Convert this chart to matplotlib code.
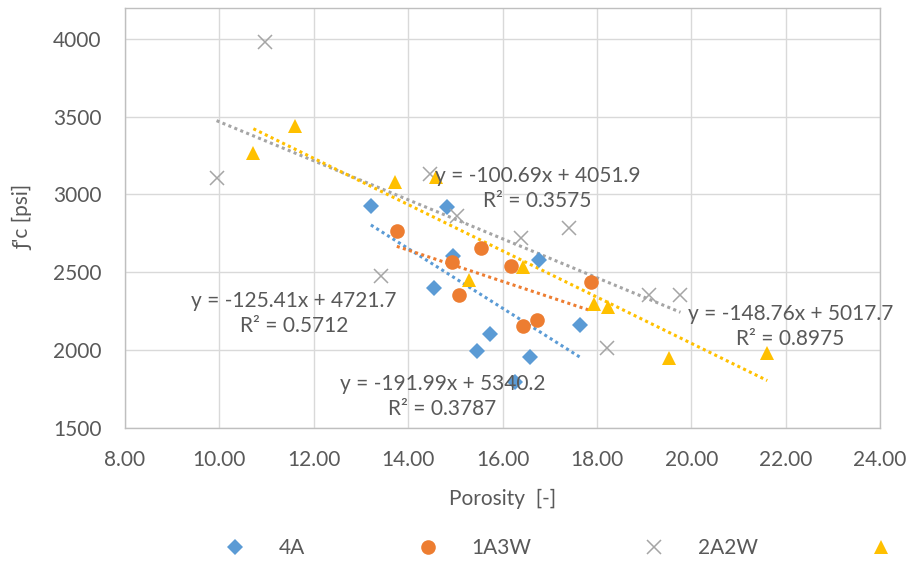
import matplotlib
matplotlib.use('Agg')
import matplotlib.pyplot as plt
import numpy as np

plt.rcParams['font.family'] = ['Lato', 'DejaVu Sans']

# 各シリーズの空隙率と圧縮強度
poro_4a = [13.21, 14.82, 14.96, 14.55, 16.77, 17.65, 15.73, 15.46, 16.59, 16.27]
fc_4a = [2925, 2921, 2607, 2399, 2581, 2162, 2102, 1996, 1957, 1796]

poro_1a3w = [13.76, 14.93, 15.55, 15.07, 16.18, 17.88, 16.43, 16.73]
fc_1a3w = [2764, 2566, 2657, 2355, 2543, 2435, 2151, 2190]

poro_2a2w = [10.97, 9.94, 13.43, 14.47, 15.03, 16.39, 17.40, 19.10, 19.77, 18.22]
fc_2a2w = [3983, 3108, 2473, 3129, 2860, 2721, 2786, 2355, 2355, 2011]

poro_s4 = [10.72, 11.61, 13.73, 14.60, 15.28, 16.43, 17.93, 18.23, 19.52, 21.61]
fc_s4 = [3269, 3441, 3080, 3110, 2452, 2534, 2293, 2277, 1947, 1983]

# 近似直線の係数 (傾き, 切片, R²)
fit_4a = (-191.99, 5340.2, 0.3787)
fit_1a3w = (-100.69, 4051.9, 0.3575)
fit_2a2w = (-125.41, 4721.7, 0.5712)
fit_s4 = (-148.76, 5017.7, 0.8975)

# 近似式ラベルの位置 (データ座標)
pos_4a = (14.73, 1701)
pos_1a3w = (16.74, 3036)
pos_2a2w = (11.58, 2233)
pos_s4 = (22.10, 2149)

series = [
    ('4A', poro_4a, fc_4a, fit_4a, pos_4a, '#5B9BD5', 'D', 8.5),
    ('1A3W', poro_1a3w, fc_1a3w, fit_1a3w, pos_1a3w, '#ED7D31', 'o', 10.5),
    ('2A2W', poro_2a2w, fc_2a2w, fit_2a2w, pos_2a2w, '#A5A5A5', 'x', 9.5),
    ('', poro_s4, fc_s4, fit_s4, pos_s4, '#FFC000', '^', 10.5),
]

text_color = '#595959'
fs = 15

fig = plt.figure(figsize=(9.08, 5.62), dpi=100)
ax = fig.add_axes([0.1377, 0.2391, 0.8315, 0.7467])

handles = []
for name, xs, ys, fit, pos, color, marker, ms in series:
    mew = 1.1 if marker == 'x' else 0
    h, = ax.plot(xs, ys, linestyle='none', marker=marker, markersize=ms,
                 color=color, markeredgewidth=mew, zorder=3)
    handles.append(h)

# 点線の近似直線
for name, xs, ys, fit, pos, color, marker, ms in series:
    slope, icept, r2 = fit
    xl = np.array([min(xs), max(xs)])
    ax.plot(xl, slope * xl + icept, color=color, linewidth=2.2,
            linestyle=(0, (1, 1.1)), zorder=2)

for name, xs, ys, fit, pos, color, marker, ms in series:
    slope, icept, r2 = fit
    ax.text(pos[0], pos[1], f'y = {slope:.2f}x + {icept:.1f}\nR² = {r2:.4f}',
            ha='center', va='center', multialignment='center',
            fontsize=fs, color=text_color, linespacing=1.3,
            zorder=4, clip_on=False)

ax.set_xlim(8, 24)
ax.set_ylim(1500, 4200)
ax.set_xticks(np.arange(8, 25, 2))
ax.set_yticks(np.arange(1500, 4001, 500))
ax.xaxis.set_major_formatter(matplotlib.ticker.FormatStrFormatter('%.2f'))
ax.grid(True, color='#D9D9D9', linewidth=1.0, zorder=0)
ax.set_axisbelow(True)
for s in ax.spines.values():
    s.set_color('#BFBFBF')
    s.set_linewidth(1.0)
ax.tick_params(length=0, labelsize=fs, labelcolor=text_color)
ax.tick_params(axis='x', pad=16)
ax.tick_params(axis='y', pad=17)

ax.set_xlabel('Porosity  [-]', fontsize=fs, color=text_color, labelpad=14)
ax.set_ylabel("ƒ'c [psi]", fontsize=fs, color=text_color, labelpad=14)

fig.legend(handles, [s[0] for s in series], ncol=4, loc='center left',
           bbox_to_anchor=(0.2241, 0.0249), frameon=False, borderpad=0,
           handlelength=2.0, handletextpad=1.1, columnspacing=4.9,
           fontsize=fs, labelcolor=text_color)

fig.savefig('out.png', dpi=100)
